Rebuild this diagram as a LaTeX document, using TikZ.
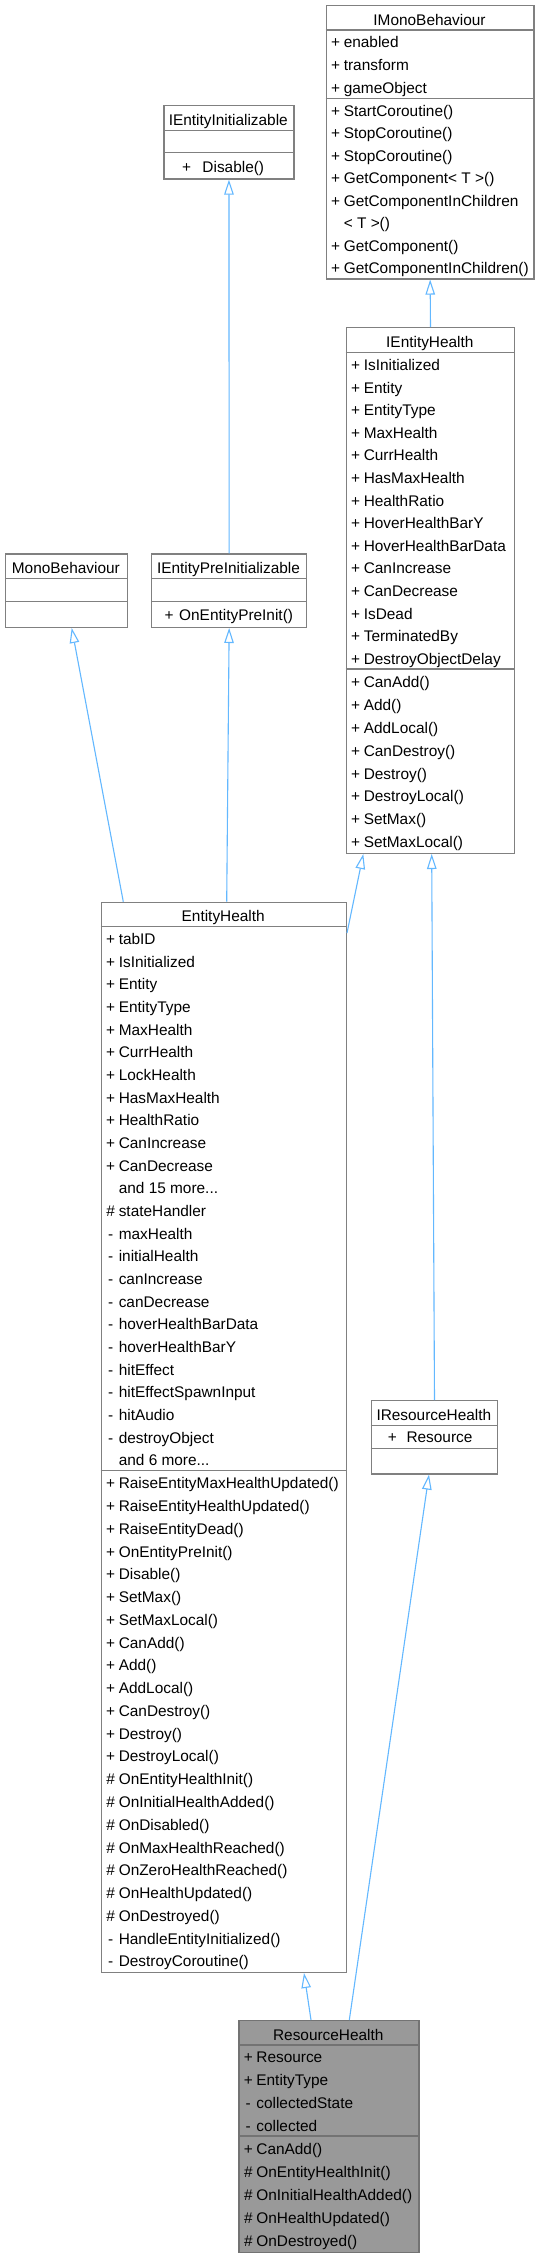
\documentclass[tikz,border=0pt]{standalone}
\usepackage{fontspec}
\setmainfont{Liberation Sans}
\usetikzlibrary{arrows.meta, calc}

\definecolor{boxgray}{HTML}{808080}
\definecolor{mainfill}{HTML}{999999}
\definecolor{edgeblue}{HTML}{63B8FF}
\newcommand{\umlfont}{\fontsize{15.4}{18}\selectfont}
\newcommand{\memsym}[1]{\makebox[12.6pt][l]{\makebox[9pt]{#1}}}
\newcommand{\tdots}{...}

\begin{document}
\begin{tikzpicture}[x=1pt, y=-1pt,
  classbox/.style={draw=boxgray, line width=1.3pt, fill=white,
                   inner sep=0pt, anchor=north west},
  mainbox/.style={classbox, fill=mainfill, draw=black!55},
  sep/.style={draw=boxgray, line width=1.3pt},
  mainsep/.style={draw=black!55, line width=1.3pt},
  ctitle/.style={anchor=base, inner sep=0pt, font=\umlfont},
  member/.style={anchor=base west, inner sep=0pt, font=\umlfont},
  inherit/.style={draw=edgeblue, line width=1.1pt,
                  -{Triangle[open, length=15pt, width=9.5pt]}}
]
\fill[white] (0,0) rectangle (539,2257);
\useasboundingbox (0,0) rectangle (539,2257);

% IMonoBehaviour
\node[classbox, minimum width=207.6pt, minimum height=273.6pt] (imono) at (325.7,4.7) {};
\node[ctitle] (imono title) at (429.5,25.2) {IMonoBehaviour};
\draw[sep] (325.7,30) -- (533.3,30);
\draw[sep] (325.7,98.3) -- (533.3,98.3);
\foreach \sy/\nm [count=\i, evaluate=\i as \yy using 30+\i*22.77-4.8] in
  {+/enabled, +/transform, +/gameObject}
  \node[member] (imono a\i) at (331,\yy) {\memsym{\sy}\nm};
\foreach \sy/\nm [count=\i, evaluate=\i as \yy using 98.3+\i*22.5-4.8] in
  {+/StartCoroutine(), +/StopCoroutine(), +/StopCoroutine(),
   +/GetComponent< T >(), +/GetComponentInChildren, {}/< T >(),
   +/GetComponent(), +/GetComponentInChildren()}
  \node[member] (imono m\i) at (331,\yy) {\memsym{\sy}\nm};

% IEntityInitializable
\node[classbox, minimum width=130pt, minimum height=73.3pt] (ieinit) at (163.3,105) {};
\node[ctitle] (ieinit title) at (228.3,125.9) {IEntityInitializable};
\draw[sep] (163.3,130.7) -- (293.3,130.7);
\draw[sep] (163.3,152.7) -- (293.3,152.7);
\node[member] (ieinit m1) at (182,172.3) {\makebox[20.3pt][l]{+}Disable()};

% MonoBehaviour
\node[classbox, minimum width=121.7pt, minimum height=73.4pt] (mono) at (5,553.3) {};
\node[ctitle] (mono title) at (65.85,573.9) {MonoBehaviour};
\draw[sep] (5,578.7) -- (126.7,578.7);
\draw[sep] (5,601.3) -- (126.7,601.3);

% IEntityPreInitializable
\node[classbox, minimum width=155pt, minimum height=73.4pt] (iepre) at (151,553.3) {};
\node[ctitle] (iepre title) at (228.5,573.9) {IEntityPreInitializable};
\draw[sep] (151,578.7) -- (306,578.7);
\draw[sep] (151,601.3) -- (306,601.3);
\node[member] (iepre m1) at (164.3,620) {\makebox[14.7pt][l]{+}OnEntityPreInit()};

% IEntityHealth
\node[classbox, minimum width=168.3pt, minimum height=525.7pt] (ieh) at (345.7,327) {};
\node[ctitle] (ieh title) at (429.85,347.8) {IEntityHealth};
\draw[sep] (345.7,352.6) -- (514,352.6);
\draw[sep] (345.7,669) -- (514,669);
\foreach \sy/\nm [count=\i, evaluate=\i as \yy using 352.6+\i*22.6-4.8] in
  {+/IsInitialized, +/Entity, +/EntityType, +/MaxHealth, +/CurrHealth,
   +/HasMaxHealth, +/HealthRatio, +/HoverHealthBarY, +/HoverHealthBarData,
   +/CanIncrease, +/CanDecrease, +/IsDead, +/TerminatedBy, +/DestroyObjectDelay}
  \node[member] (ieh a\i) at (351,\yy) {\memsym{\sy}\nm};
\foreach \sy/\nm [count=\i, evaluate=\i as \yy using 669+\i*22.96-4.8] in
  {+/CanAdd(), +/Add(), +/AddLocal(), +/CanDestroy(), +/Destroy(),
   +/DestroyLocal(), +/SetMax(), +/SetMaxLocal()}
  \node[member] (ieh m\i) at (351,\yy) {\memsym{\sy}\nm};

% EntityHealth
\node[classbox, minimum width=245pt, minimum height=1070pt] (eh) at (100.7,901.7) {};
\node[ctitle] (eh title) at (223.2,921.9) {EntityHealth};
\draw[sep] (100.7,926.7) -- (345.7,926.7);
\draw[sep] (100.7,1470.7) -- (345.7,1470.7);
\foreach \sy/\nm [count=\i, evaluate=\i as \yy using 926.7+\i*22.667-4.8] in
  {+/tabID, +/IsInitialized, +/Entity, +/EntityType, +/MaxHealth,
   +/CurrHealth, +/LockHealth, +/HasMaxHealth, +/HealthRatio,
   +/CanIncrease, +/CanDecrease, {}/and 15 more\tdots, \#/stateHandler,
   -/maxHealth, -/initialHealth, -/canIncrease, -/canDecrease,
   -/hoverHealthBarData, -/hoverHealthBarY, -/hitEffect,
   -/hitEffectSpawnInput, -/hitAudio, -/destroyObject, {}/and 6 more\tdots}
  \node[member] (eh a\i) at (106,\yy) {\memsym{\sy}\nm};
\foreach \sy/\nm [count=\i, evaluate=\i as \yy using 1470.7+\i*22.773-4.8] in
  {+/RaiseEntityMaxHealthUpdated(), +/RaiseEntityHealthUpdated(),
   +/RaiseEntityDead(), +/OnEntityPreInit(), +/Disable(), +/SetMax(),
   +/SetMaxLocal(), +/CanAdd(), +/Add(), +/AddLocal(), +/CanDestroy(),
   +/Destroy(), +/DestroyLocal(), \#/OnEntityHealthInit(),
   \#/OnInitialHealthAdded(), \#/OnDisabled(), \#/OnMaxHealthReached(),
   \#/OnZeroHealthReached(), \#/OnHealthUpdated(), \#/OnDestroyed(),
   -/HandleEntityInitialized(), -/DestroyCoroutine()}
  \node[member] (eh m\i) at (106,\yy) {\memsym{\sy}\nm};

% IResourceHealth
\node[classbox, minimum width=126.3pt, minimum height=73.3pt] (irh) at (370.7,1400) {};
\node[ctitle] (irh title) at (433.85,1420.9) {IResourceHealth};
\draw[sep] (370.7,1425.7) -- (497,1425.7);
\draw[sep] (370.7,1448.3) -- (497,1448.3);
\node[member] (irh a1) at (387.6,1442.5) {\makebox[18.7pt][l]{+}Resource};

% ResourceHealth
\node[mainbox, minimum width=180pt, minimum height=231.7pt] (rh) at (238.3,2020) {};
\node[ctitle] (rh title) at (328.3,2040.2) {ResourceHealth};
\draw[mainsep] (238.3,2045) -- (418.3,2045);
\draw[mainsep] (238.3,2136) -- (418.3,2136);
\foreach \sy/\nm [count=\i, evaluate=\i as \yy using 2045+\i*22.75-4.8] in
  {+/Resource, +/EntityType, -/collectedState, -/collected}
  \node[member] (rh a\i) at (243.6,\yy) {\memsym{\sy}\nm};
\foreach \sy/\nm [count=\i, evaluate=\i as \yy using 2136+\i*23.14-4.8] in
  {+/CanAdd(), \#/OnEntityHealthInit(), \#/OnInitialHealthAdded(),
   \#/OnHealthUpdated(), \#/OnDestroyed()}
  \node[member] (rh m\i) at (243.6,\yy) {\memsym{\sy}\nm};

% inheritance edges
\draw[inherit] (iepre.north) -- (ieinit.south);
\draw[inherit] (ieh.north) -- (imono.south);
\draw[inherit] ([xshift=22.6pt]eh.north west) -- ([xshift=66.7pt]mono.south west);
\draw[inherit] ([xshift=126pt]eh.north west) -- (iepre.south);
\draw[inherit] ([yshift=-31.3pt]eh.north east) -- ([xshift=17.6pt]ieh.south west);
\draw[inherit] (irh.north) -- ([xshift=1.2pt]ieh.south);
\draw[inherit] ([xshift=72.7pt]rh.north west) -- ([xshift=203.3pt]eh.south west);
\draw[inherit] ([xshift=111pt]rh.north west) -- ([xshift=-5.5pt]irh.south);

\end{tikzpicture}
\end{document}
